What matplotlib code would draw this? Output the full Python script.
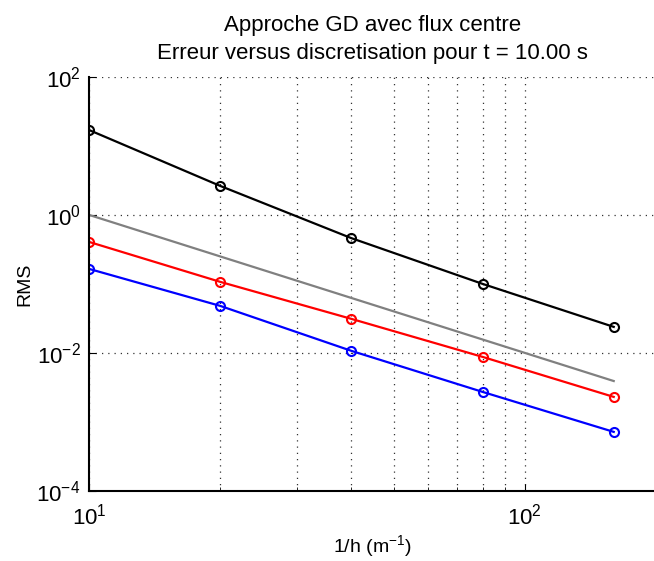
import numpy as np
import matplotlib.pyplot as plt
from matplotlib.ticker import LogLocator, NullFormatter

plt.rcParams['font.family'] = ['Liberation Sans', 'DejaVu Sans']
plt.rcParams['mathtext.fontset'] = 'custom'
plt.rcParams['mathtext.rm'] = 'Liberation Sans'

# nombre d'elements par metre
inv_h = [10, 20, 40, 80, 160]
err_black = [17.0, 2.63, 0.46, 0.10, 0.0238]
err_red = [0.406, 0.107, 0.0311, 0.00875, 0.0023]
err_blue = [0.165, 0.048, 0.0107, 0.00272, 0.000716]
# pente de reference (ordre 2)
ref_x = [10, 160]
ref_y = [1.0, 1.0 / 256]

fig = plt.figure(figsize=(6.54, 5.61), dpi=100)
ax = fig.add_axes([0.136, 0.125, 0.867, 0.738])

ax.loglog(ref_x, ref_y, color='0.5', lw=1.6)
ax.loglog(inv_h, err_black, '-o', color='k', lw=1.6, ms=6.5, mfc='none', mew=1.5)
ax.loglog(inv_h, err_red, '-o', color='r', lw=1.6, ms=6.5, mfc='none', mew=1.5)
ax.loglog(inv_h, err_blue, '-o', color='b', lw=1.6, ms=6.5, mfc='none', mew=1.5)

ax.set_xlim(10, 200)
ax.set_ylim(1e-4, 1e2)
ax.set_yticks([1e-4, 1e-2, 1e0, 1e2])
ax.yaxis.set_minor_locator(plt.NullLocator())
ax.xaxis.set_minor_locator(LogLocator(base=10, subs=np.arange(2, 10)))
ax.xaxis.set_minor_formatter(NullFormatter())

grid_style = dict(ls=(0, (1, 4)), color='0.2', lw=0.9)
ax.grid(True, which='major', **grid_style)
ax.grid(True, which='minor', axis='x', **grid_style)

for s in ['top', 'right']:
    ax.spines[s].set_visible(False)
for s in ['left', 'bottom']:
    ax.spines[s].set_linewidth(1.5)
ax.tick_params(which='both', direction='in', labelsize=16)
ax.tick_params(which='major', length=5)
ax.tick_params(which='minor', length=3)
ax.tick_params(axis='x', pad=9)
ax.tick_params(axis='y', pad=6)

ax.set_xlabel('1/h (m$^{-1}$)', fontsize=14, labelpad=3)
ax.set_ylabel('RMS', fontsize=14, labelpad=2)
ax.set_title('Approche GD avec flux centre\nErreur versus discretisation pour t = 10.00 s',
             fontsize=16, linespacing=1.45, pad=13)

fig.savefig('out.png', dpi=100)
